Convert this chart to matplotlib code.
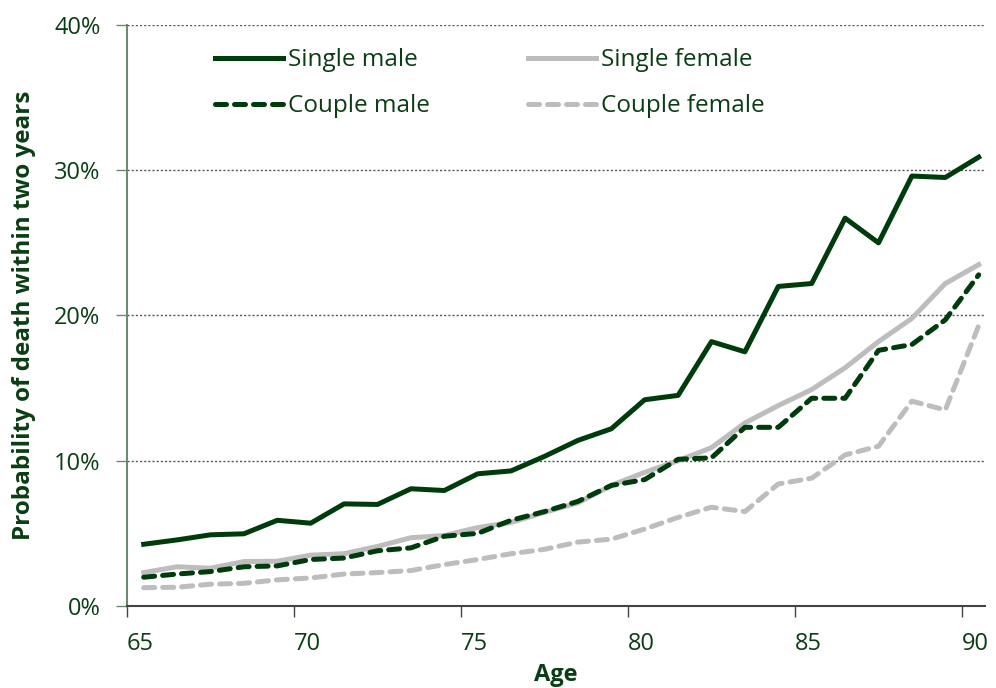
"""Two-year death probability by age, single vs couple, male vs female."""

import matplotlib.pyplot as plt
from matplotlib.ticker import FuncFormatter

plt.rcParams["font.family"] = ["Open Sans", "DejaVu Sans"]

DARK = "#003b0c"
GREY = "#bdbdbd"
TEXT = "#0b3d14"

ages = [65.5 + i for i in range(26)]

single_male = [4.25, 4.55, 4.9, 4.97, 5.9, 5.7, 7.03, 6.99, 8.07, 7.95, 9.1, 9.3,
               10.3, 11.4, 12.2, 14.2, 14.5, 18.2, 17.5, 22.0, 22.2, 26.7, 25.0,
               29.6, 29.5, 30.9]
single_female = [2.3, 2.7, 2.6, 3.06, 3.08, 3.5, 3.6, 4.1, 4.7, 4.85, 5.4, 5.75,
                 6.45, 7.1, 8.3, 9.2, 10.0, 10.9, 12.6, 13.8, 14.9, 16.4, 18.2,
                 19.8, 22.2, 23.5]
couple_male = [1.98, 2.2, 2.37, 2.7, 2.76, 3.2, 3.3, 3.8, 4.0, 4.8, 5.0, 5.9,
               6.5, 7.2, 8.3, 8.7, 10.1, 10.2, 12.3, 12.3, 14.3, 14.3, 17.6,
               18.0, 19.7, 22.8]
couple_female = [1.26, 1.29, 1.5, 1.56, 1.8, 1.93, 2.2, 2.3, 2.44, 2.85, 3.2, 3.6,
                 3.9, 4.4, 4.6, 5.3, 6.1, 6.8, 6.5, 8.4, 8.8, 10.4, 11.0, 14.1,
                 13.5, 19.3]

x_ticks = [65, 70, 75, 80, 85, 90]
y_ticks = [0, 10, 20, 30, 40]

fig = plt.figure(figsize=(9.96, 6.88), dpi=100)
ax = fig.add_axes([0.1275, 0.1192, 0.8615, 0.8445])

lw = 3.6
dash = (2.2, 1.6)
l_sm, = ax.plot(ages, single_male, color=DARK, lw=lw, label="Single male", zorder=4)
l_sf, = ax.plot(ages, single_female, color=GREY, lw=lw, label="Single female", zorder=2)
l_cm, = ax.plot(ages, couple_male, color=DARK, lw=lw, label="Couple male",
                dashes=dash, dash_capstyle="round", zorder=3)
l_cf, = ax.plot(ages, couple_female, color=GREY, lw=lw, label="Couple female",
                dashes=dash, dash_capstyle="round", zorder=2)

ax.set_xlim(65, 90.69)
ax.set_ylim(0, 40)
ax.set_xticks(x_ticks)
ax.set_yticks(y_ticks)
ax.yaxis.set_major_formatter(FuncFormatter(lambda v, _: f"{v:.0f}%"))
for lab in ax.get_xticklabels():
    lab.set_horizontalalignment("left")

ax.tick_params(axis="both", labelsize=17, labelcolor=TEXT, length=8, width=1,
               color="#444444")
ax.tick_params(axis="x", pad=11)
ax.tick_params(axis="y", pad=11, color="#6b8a6e")

for y in y_ticks[1:]:
    ax.axhline(y, color="#555555", lw=1, linestyle=(0, (1.5, 1.5)), zorder=1)

ax.spines["top"].set_visible(False)
ax.spines["right"].set_visible(False)
ax.spines["left"].set_color("#6b8a6e")
ax.spines["left"].set_linewidth(1.5)
ax.spines["bottom"].set_color("#444444")
ax.spines["bottom"].set_linewidth(1.5)

ax.set_xlabel("Age", fontsize=17, fontweight="bold", color=TEXT, labelpad=5)
ax.set_ylabel("Probability of death within two years", fontsize=17.5,
              fontweight="bold", color=TEXT, labelpad=13)

# column-wise fill: put singles on the first row, couples on the second
leg = ax.legend([l_sm, l_cm, l_sf, l_cf],
                ["Single male", "Couple male", "Single female", "Couple female"],
                loc="upper left", bbox_to_anchor=(0.1026, 0.9596), ncol=2,
                frameon=False, fontsize=17.5, handlelength=2.8,
                handletextpad=0.22, columnspacing=4.0, labelspacing=0.9,
                borderpad=0, borderaxespad=0)
for t in leg.get_texts():
    t.set_color(TEXT)

fig.savefig("out.png", dpi=100)
